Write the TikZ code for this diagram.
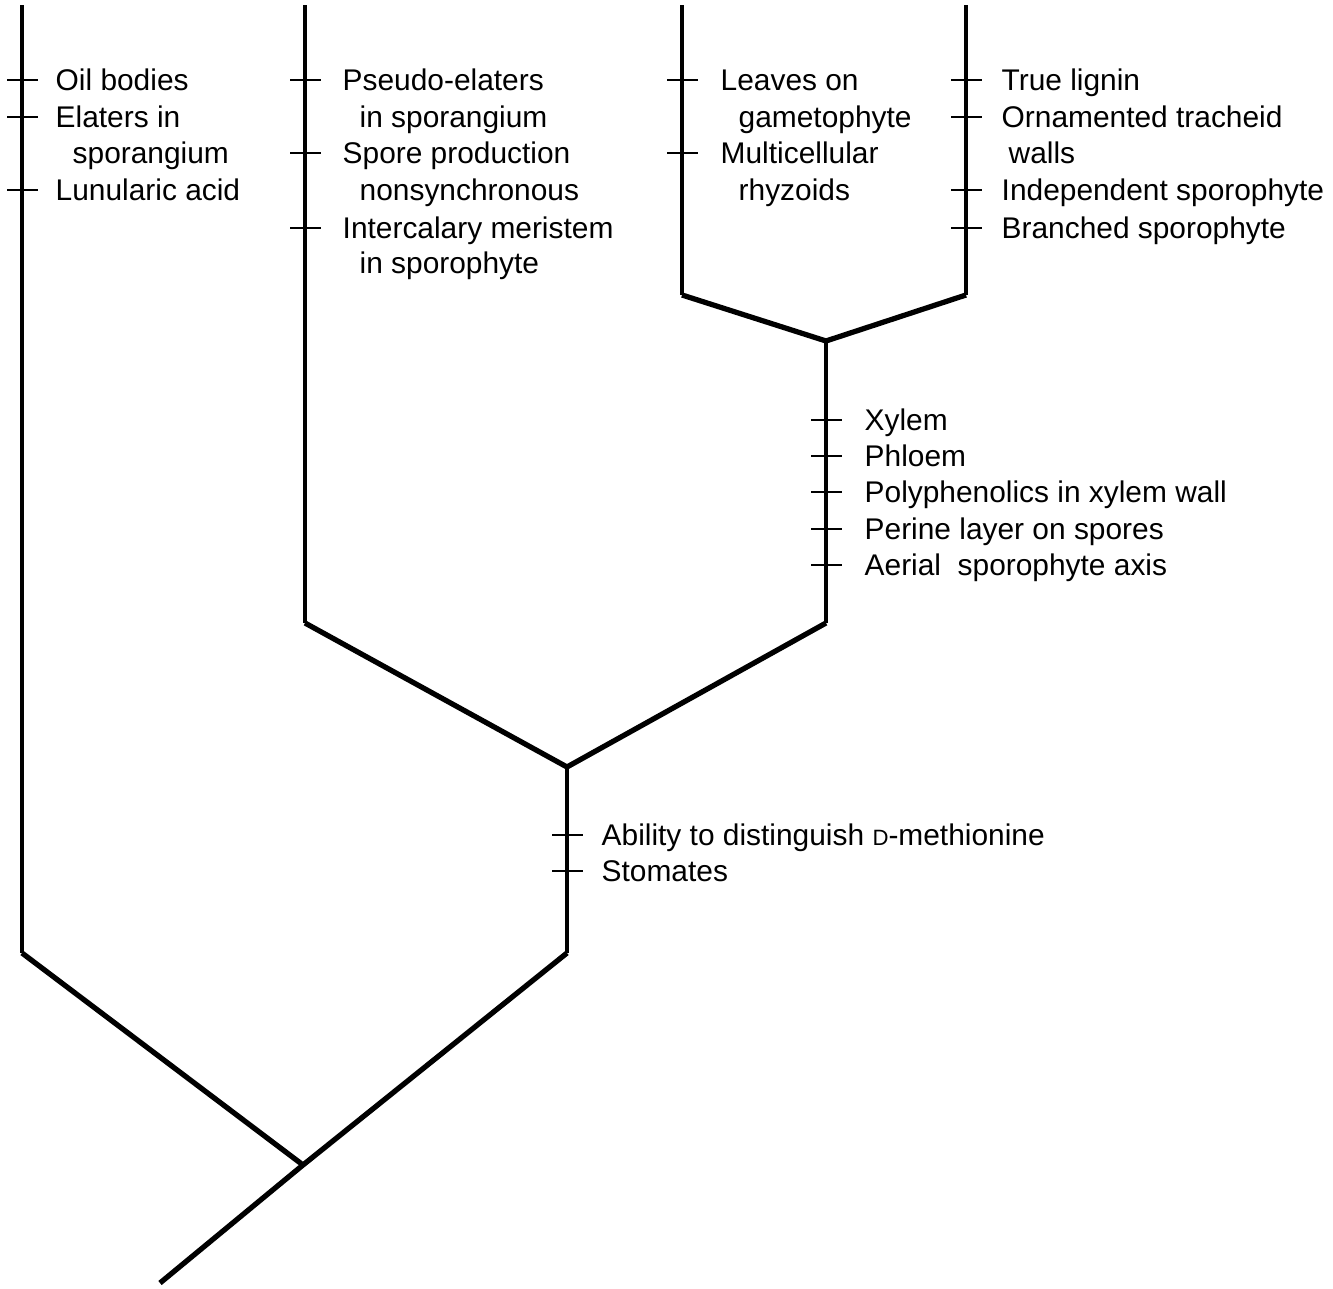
\documentclass[tikz,border=0pt]{standalone}
\usepackage{fontspec}
\setmainfont{Liberation Sans}
\usetikzlibrary{positioning}
\tikzset{
  branch/.style={line width=1.5pt},
  stem/.style={line width=1.15pt},
  tick/.style={line width=0.6pt},
  trait/.style={anchor=base west, inner sep=0pt, font=\fontsize{8.5}{10}\selectfont},
}

\begin{document}
\begin{tikzpicture}[x=0.01cm, y=-0.01cm]
        \useasboundingbox (0,0) rectangle (1333,1289);
        % nodes of the tree
        \coordinate (root) at (160,1283); \coordinate (j1) at (303,1165);
        \coordinate (j2a) at (567,953); \coordinate (j2) at (567,767);
        \coordinate (j3a) at (826,623); \coordinate (j3) at (826,341);
        \coordinate (liv-base) at (22,953); \coordinate (liv-top) at (22,5);
        \coordinate (horn-base) at (305,623); \coordinate (horn-top) at (305,5);
        \coordinate (moss-base) at (682,295); \coordinate (moss-top) at (682,5);
        \coordinate (vasc-base) at (966,295); \coordinate (vasc-top) at (966,5);
        % branches
        \draw[branch] (root) -- (j1) -- (j2a); \draw[branch] (j1) -- (liv-base);
        \draw[branch] (horn-base) -- (j2) -- (j3a);
        \draw[branch] (moss-base) -- (j3) -- (vasc-base);
        % stems
        \draw[stem] (j2a) -- (j2); \draw[stem] (j3a) -- (j3);
        \draw[stem] (liv-base) -- (liv-top); \draw[stem] (horn-base) -- (horn-top);
        \draw[stem] (moss-base) -- (moss-top); \draw[stem] (vasc-base) -- (vasc-top);
        % liverworts
        \foreach \y in {80,117,190} { \draw[tick] (7,\y) -- (38,\y); }
        \foreach \y/\dx/\t [count=\i] in {80/0/Oil bodies, 117/0/Elaters in, 153/17/sporangium, 190/0/Lunularic acid}
          { \node[trait] (liv-\i) at (55+\dx,\y+11) {\t}; }
        % hornworts
        \foreach \y in {80,153,228} { \draw[tick] (290,\y) -- (321,\y); }
        \foreach \y/\dx/\t [count=\i] in {80/0/Pseudo-elaters, 117/17/in sporangium, 153/0/Spore production, 190/17/nonsynchronous, 228/0/Intercalary meristem, 263/17/in sporophyte}
          { \node[trait] (horn-\i) at (342+\dx,\y+11) {\t}; }
        % mosses
        \foreach \y in {80,153} { \draw[tick] (667,\y) -- (698,\y); }
        \foreach \y/\dx/\t [count=\i] in {80/0/Leaves on, 117/18/gametophyte, 153/0/Multicellular, 190/18/rhyzoids}
          { \node[trait] (moss-\i) at (720+\dx,\y+11) {\t}; }
        % vascular plants
        \foreach \y in {80,117,190,228} { \draw[tick] (951,\y) -- (982,\y); }
        \foreach \y/\dx/\t [count=\i] in {80/0/True lignin, 117/0/Ornamented tracheid, 153/7/walls, 190/0/Independent sporophyte, 228/0/Branched sporophyte}
          { \node[trait] (vasc-\i) at (1001+\dx,\y+11) {\t}; }
        % stem of mosses + vascular plants
        \foreach \y/\t [count=\i] in {420/Xylem, 456/Phloem, 492/Polyphenolics in xylem wall, 529/Perine layer on spores, 565/Aerial\ \ sporophyte axis}
          { \draw[tick] (811,\y) -- (842,\y); \node[trait] (stem-\i) at (864,\y+11) {\t}; }
        % stem above liverworts
        \draw[tick] (552,835) -- (583,835); \node[trait] (stom-1) at (601,846) {Ability to distinguish {\fontsize{6.3}{7}\selectfont D}-methionine};
        \draw[tick] (552,871) -- (583,871); \node[trait] (stom-2) at (601,882) {Stomates};
      \end{tikzpicture}
\end{document}
